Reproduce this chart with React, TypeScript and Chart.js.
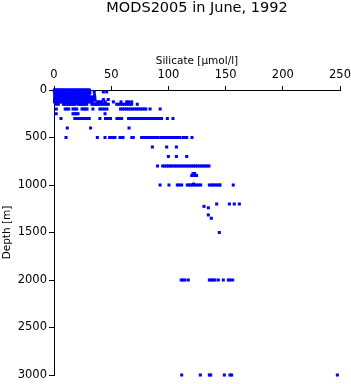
import React, { useEffect, useRef } from "react";
import { Chart, registerables } from "chart.js";

Chart.register(...registerables);

const TITLE = "MODS2005 in June, 1992";
const X_TITLE = "Silicate [µmol/l]";
const Y_TITLE = "Depth [m]";

const xTickMin = 0;
const xTickMax = 250;
const xTickStep = 50;
const yTickMin = 0;
const yTickMax = 3000;
const yTickStep = 500;

// silicate values observed at each depth level (m)
const si0 = [0.3, 1.2, 2.3, 3.1, 4.5, 5.6, 6.4, 7.8, 8.7, 9.9, 11.2, 12.1, 13.5, 14.6, 15.7, 16.9, 18.2, 19.4, 20.3, 21.6, 22.8, 23.9, 25.1, 26.3, 27.4, 28.6, 29.8, 30.9];
const si10 = [0.8, 1.9, 3.0, 4.2, 5.1, 6.7, 7.5, 8.8, 10.1, 11.3, 12.6, 13.8, 14.9, 16.2, 17.4, 18.5, 19.8, 21.0, 22.1, 23.4, 24.6, 25.7, 26.9, 28.1, 29.3, 30.4];
const si20 = [0.5, 1.6, 2.8, 3.9, 5.0, 6.1, 7.3, 8.4, 9.6, 10.7, 11.9, 13.1, 14.2, 15.4, 16.5, 17.7, 18.9, 20.0, 21.2, 22.3, 23.5, 24.7, 25.8, 27.0, 28.3, 29.4, 30.7, 35.2, 43.1, 46.0];
const si30 = [0.4, 1.5, 2.6, 3.8, 4.9, 6.0, 7.2, 8.3, 9.5, 10.6, 11.8, 12.9, 14.1, 15.3, 16.4, 17.6, 18.7, 19.9, 21.1, 22.2, 23.4, 24.5, 25.7, 26.8, 28.0, 29.1, 30.3, 31.4];
const si50 = [0.7, 1.8, 2.9, 4.1, 5.2, 6.4, 7.5, 8.7, 9.8, 11.0, 12.2, 13.3, 14.5, 15.6, 16.8, 17.9, 19.1, 20.3, 21.4, 22.6, 23.7, 24.9, 26.0, 27.2, 28.4, 29.5, 30.6, 35.4];
const si75 = [0.6, 1.7, 2.8, 4.0, 5.1, 6.3, 7.4, 8.6, 9.7, 10.9, 12.0, 13.2, 14.4, 15.5, 16.7, 17.8, 19.0, 20.2, 21.3, 22.5, 23.6, 24.8, 25.9, 27.1, 28.3, 29.4, 30.6, 31.8, 33.0, 34.2, 35.6];
const si100 = [0.5, 1.6, 2.7, 3.9, 5.0, 6.2, 7.3, 8.5, 9.6, 10.8, 11.9, 13.1, 14.3, 15.4, 16.6, 17.7, 18.9, 20.1, 21.2, 22.4, 23.5, 24.7, 25.8, 27.0, 28.2, 29.3, 30.5, 31.7, 32.9, 34.0, 35.8, 43.2, 47.4];
const si125 = [0.4, 1.5, 2.6, 3.8, 4.9, 6.1, 7.2, 8.4, 9.5, 10.7, 11.8, 13.0, 14.2, 15.3, 16.5, 17.6, 18.8, 20.0, 21.1, 22.3, 23.4, 24.6, 25.7, 26.9, 28.1, 29.2, 30.4, 31.6, 32.8, 34.1, 37.4, 38.9, 40.3, 42.1, 44.8, 51.9, 58.6, 63.5, 65.2, 67.9];
const si150 = [1.7, 3.8, 8.2, 9.7, 11.1, 12.6, 14.0, 15.5, 17.0, 18.4, 21.0, 22.5, 24.0, 25.5, 27.0, 28.6, 33.1, 34.6, 36.0, 37.3, 38.8, 40.2, 42.0, 44.1, 45.8, 47.5, 54.8, 56.5, 58.2, 60.0, 61.7, 63.4, 65.0, 66.5, 67.9, 72.8];
const si200 = [2.0, 9.8, 11.3, 12.9, 16.6, 18.2, 19.9, 24.5, 26.0, 27.6, 28.9, 34.0, 40.1, 42.0, 44.2, 46.3, 58.1, 59.8, 61.6, 63.3, 65.0, 66.8, 68.5, 70.2, 71.9, 73.7, 75.4, 77.1, 78.8, 80.3, 84.0, 92.8];
const si250 = [1.9, 16.6, 18.1, 19.6, 21.0, 44.6];
const si300 = [6.1, 18.2, 19.8, 21.4, 23.0, 24.6, 26.2, 27.8, 29.4, 30.8, 40.1, 45.0, 46.6, 48.2, 49.4, 55.0, 57.0, 59.1, 65.2, 66.9, 68.6, 70.3, 72.0, 73.7, 75.4, 77.1, 78.8, 80.5, 82.2, 83.9, 85.6, 87.3, 89.0, 90.7, 92.4, 94.0, 99.1, 104.0];
const si400 = [11.6, 32.0, 65.6];
const si500 = [10.5, 37.9, 44.6, 48.6, 50.3, 51.9, 53.3, 57.7, 59.0, 60.3, 68.0, 69.3, 76.6, 78.3, 80.0, 81.7, 83.4, 85.1, 86.8, 88.5, 90.2, 91.2, 94.0, 95.7, 97.4, 99.1, 100.8, 102.5, 104.2, 105.9, 107.6, 109.3, 110.2, 113.1, 114.6, 116.0, 120.6];
const si600 = [86.0, 98.5, 107.0];
const si700 = [100.0, 107.0, 116.0];
const si800 = [90.5, 95.0, 96.7, 98.4, 100.1, 101.8, 103.0, 105.0, 106.7, 108.4, 110.1, 111.8, 113.5, 115.2, 116.9, 118.6, 120.3, 122.0, 123.7, 125.4, 127.1, 128.8, 130.5, 132.2, 133.9, 135.5];
const si880 = [121.5, 123.0];
const si900 = [120.4, 122.0, 124.6];
const si990 = [122.0];
const si1000 = [92.7, 100.5, 107.8, 109.5, 111.6, 116.5, 118.0, 119.5, 121.2, 123.0, 124.8, 126.6, 128.2, 135.8, 137.5, 139.2, 140.9, 142.6, 144.3, 145.1, 156.7];
const si1200 = [142.2, 153.3, 157.6, 162.0];
const si1225 = [131.1];
const si1240 = [134.9];
const si1315 = [134.9];
const si1350 = [137.5];
const si1500 = [144.5];
const si2000 = [111.2, 112.6, 114.5, 117.4, 135.8, 137.4, 139.0, 140.7, 143.6, 148.0, 152.4, 154.0, 156.2];
const si3000 = [111.6, 127.9, 135.8, 137.0, 148.9, 153.8, 155.3, 247.7];

const depthLevels = [0, 10, 20, 30, 50, 75, 100, 125, 150, 200, 250, 300, 400, 500, 600, 700, 800, 880, 900, 990, 1000, 1200, 1225, 1240, 1315, 1350, 1500, 2000, 3000];
const silicateByLevel = [si0, si10, si20, si30, si50, si75, si100, si125, si150, si200, si250, si300, si400, si500, si600, si700, si800, si880, si900, si990, si1000, si1200, si1225, si1240, si1315, si1350, si1500, si2000, si3000];

const FONT = "'DejaVu Sans', sans-serif";

export default function App() {
  const ref = useRef<HTMLCanvasElement | null>(null);

  useEffect(() => {
    if (!ref.current) return;
    const points = depthLevels.flatMap((d, i) =>
      silicateByLevel[i].map((v) => ({ x: v, y: d }))
    );
    const chart = new Chart(ref.current, {
      type: "scatter",
      data: {
        datasets: [
          {
            data: points,
            backgroundColor: "#0000ff",
            borderColor: "#0000ff",
            borderWidth: 0,
            pointStyle: "rect",
            pointRadius: 2.15,
            pointHoverRadius: 2.15,
            clip: false,
          } as any,
        ],
      },
      options: {
        animation: false,
        responsive: false,
        devicePixelRatio: 1,
        layout: { padding: { top: 0, left: 0, right: 11, bottom: 9 } },
        plugins: {
          legend: { display: false },
          tooltip: { enabled: false },
          title: {
            display: true,
            text: TITLE,
            fullSize: false,
            color: "#000",
            font: { family: FONT, size: 14.5, weight: "normal", lineHeight: 1 },
            padding: { top: 1, bottom: 39.5 },
          },
        },
        scales: {
          x: {
            type: "linear",
            position: "top",
            min: xTickMin,
            max: xTickMax,
            afterFit: (s: any) => {
              s.height = 35;
              s.paddingLeft = 0;
              s.paddingRight = 0;
            },
            ticks: {
              stepSize: xTickStep,
              color: "#000",
              padding: 4,
              maxRotation: 0,
              font: { family: FONT, size: 11.5 },
              callback: (v: any) => String(v),
            },
            grid: {
              display: true,
              drawOnChartArea: false,
              drawTicks: true,
              tickLength: 4,
              color: "#000",
              lineWidth: 1,
            },
            border: { display: true, color: "#000", width: 1 },
            title: {
              display: true,
              text: X_TITLE,
              color: "#000",
              padding: { top: 0, bottom: 0 },
              font: { family: FONT, size: 10.5 },
            },
          },
          y: {
            type: "linear",
            position: "left",
            reverse: true,
            min: yTickMin,
            max: yTickMax,
            afterFit: (s: any) => {
              s.width = 54;
              s.paddingTop = 0;
              s.paddingBottom = 0;
            },
            ticks: {
              stepSize: yTickStep,
              color: "#000",
              padding: 2,
              font: { family: FONT, size: 11.5 },
              callback: (v: any) => String(v),
            },
            grid: {
              display: true,
              drawOnChartArea: false,
              drawTicks: true,
              tickLength: 5,
              color: "#000",
              lineWidth: 1,
            },
            border: { display: true, color: "#000", width: 1 },
            title: {
              display: true,
              text: Y_TITLE,
              color: "#000",
              padding: { top: 1, bottom: 0 },
              font: { family: FONT, size: 10.5 },
            },
          },
        },
      },
    });
    return () => chart.destroy();
  }, []);

  return (
    <div style={{ position: "fixed", left: 0, top: 0, width: 351, height: 384, background: "#fff" }}>
      <canvas ref={ref} width={351} height={384} style={{ display: "block" }} />
    </div>
  );
}
